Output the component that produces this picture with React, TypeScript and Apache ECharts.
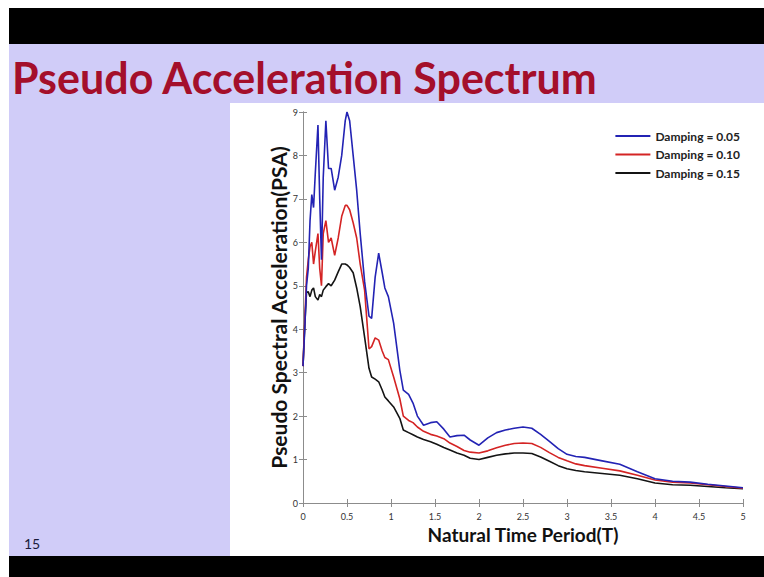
import React, { useEffect, useRef } from "react";
import * as echarts from "echarts";

const periods = [0, 0.02, 0.04, 0.06, 0.08, 0.1, 0.12, 0.14, 0.17, 0.19, 0.21, 0.23, 0.26, 0.29, 0.32, 0.36, 0.4, 0.44, 0.48, 0.5, 0.53, 0.57, 0.61, 0.65, 0.7, 0.75, 0.78, 0.82, 0.86, 0.9, 0.93, 0.97, 1.03, 1.1, 1.14, 1.2, 1.25, 1.3, 1.37, 1.45, 1.52, 1.6, 1.67, 1.75, 1.83, 1.9, 2.0, 2.1, 2.2, 2.3, 2.4, 2.5, 2.6, 2.7, 2.8, 2.9, 3.0, 3.1, 3.2, 3.4, 3.6, 3.8, 4.0, 4.2, 4.4, 4.6, 4.8, 5.0];

const psa005 = [3.15, 4.0, 5.0, 5.4, 6.5, 7.1, 6.8, 7.6, 8.7, 7.0, 5.6, 7.5, 8.8, 7.7, 7.7, 7.2, 7.5, 8.0, 8.8, 9.0, 8.8, 8.0, 7.2, 6.2, 5.1, 4.3, 4.25, 5.2, 5.75, 5.3, 4.95, 4.75, 4.14, 3.06, 2.6, 2.5, 2.3, 2.0, 1.79, 1.85, 1.87, 1.7, 1.52, 1.55, 1.56, 1.45, 1.33, 1.5, 1.62, 1.68, 1.72, 1.75, 1.72, 1.58, 1.42, 1.25, 1.12, 1.07, 1.05, 0.97, 0.89, 0.72, 0.56, 0.5, 0.48, 0.43, 0.39, 0.35];

const psa010 = [3.15, 4.2, 5.2, 5.6, 5.9, 6.0, 5.5, 5.8, 6.2, 5.4, 5.0, 6.2, 6.5, 6.0, 6.1, 5.7, 6.1, 6.6, 6.85, 6.85, 6.75, 6.45, 6.1, 5.5, 4.9, 3.55, 3.6, 3.8, 3.75, 3.5, 3.35, 3.3, 2.9, 2.4, 2.0, 1.9, 1.85, 1.75, 1.65, 1.58, 1.54, 1.48, 1.38, 1.3, 1.21, 1.17, 1.15, 1.2, 1.27, 1.33, 1.37, 1.38, 1.37, 1.28, 1.16, 1.05, 0.97, 0.9, 0.86, 0.8, 0.74, 0.64, 0.53, 0.48, 0.46, 0.42, 0.38, 0.34];

const psa015 = [3.15, 4.1, 4.85, 4.86, 4.75, 4.9, 4.95, 4.75, 4.67, 4.8, 4.75, 4.9, 4.98, 5.05, 5.0, 5.13, 5.32, 5.5, 5.5, 5.48, 5.42, 5.3, 4.95, 4.52, 3.82, 3.1, 2.9, 2.85, 2.79, 2.6, 2.44, 2.35, 2.21, 1.95, 1.68, 1.62, 1.57, 1.52, 1.46, 1.41, 1.35, 1.28, 1.22, 1.15, 1.1, 1.03, 1.0, 1.05, 1.1, 1.13, 1.15, 1.15, 1.14, 1.06, 0.96, 0.86, 0.79, 0.75, 0.72, 0.68, 0.64, 0.56, 0.46, 0.42, 0.41, 0.38, 0.35, 0.33];

const seriesNames = ["Damping = 0.05", "Damping = 0.10", "Damping = 0.15"];
const seriesColors = ["#2323b4", "#d42424", "#141414"];
const title = "Pseudo Acceleration Spectrum";
const xName = "Natural Time Period(T)";
const yName = "Pseudo Spectral Acceleration(PSA)";
const pageNumber = "15";

const FONT = "Lato, 'Open Sans', sans-serif";

export default function App() {
  const ref = useRef<HTMLDivElement>(null);
  useEffect(() => {
    if (!ref.current) return;
    const chart = echarts.init(ref.current, undefined, { renderer: "svg" });
    const values = [psa005, psa010, psa015];
    const gridLeft = 303;
    const gridTop = 112;
    const gridW = 440;
    const gridH = 391;
    const axisColor = "#8c8c8c";
    const xCommon = {
      type: "value" as const,
      min: 0,
      max: 5,
      interval: 0.5,
      splitLine: { show: false },
      axisLine: { show: true, lineStyle: { color: axisColor, width: 1 } },
      axisTick: { show: true, inside: true, length: 4, lineStyle: { color: axisColor } },
    };
    const yCommon = {
      type: "value" as const,
      min: 0,
      max: 9,
      interval: 1,
      splitLine: { show: false },
      axisLine: { show: true, lineStyle: { color: axisColor, width: 1 } },
      axisTick: { show: true, inside: true, length: 4, lineStyle: { color: axisColor } },
    };
    chart.setOption({
      animation: false,
      backgroundColor: "#ffffff",
      graphic: [
        { type: "rect", z: -100, shape: { x: 9, y: 8, width: 755, height: 36 }, style: { fill: "#000000" } },
        { type: "rect", z: -100, shape: { x: 9, y: 44, width: 755, height: 512 }, style: { fill: "#d0ccf8" } },
        { type: "rect", z: -100, shape: { x: 9, y: 556, width: 755, height: 21 }, style: { fill: "#000000" } },
        { type: "rect", z: -99, shape: { x: 230, y: 103, width: 534, height: 453 }, style: { fill: "#ffffff" } },
        {
          type: "text",
          z: 10,
          x: 12,
          y: 77,
          style: {
            text: title,
            font: `bold 43px ${FONT}`,
            fill: "#a40f2b",
            verticalAlign: "middle",
            align: "left",
          },
        },
        {
          type: "text",
          z: 10,
          x: 24,
          y: 543,
          style: {
            text: pageNumber,
            font: `14px ${FONT}`,
            fill: "#1a1a3a",
            verticalAlign: "middle",
            align: "left",
          },
        },
      ],
      grid: { left: gridLeft, top: gridTop, width: gridW, height: gridH, containLabel: false },
      legend: {
        data: seriesNames,
        orient: "vertical",
        right: 19,
        top: 125,
        itemWidth: 35,
        itemHeight: 2,
        itemGap: 6.5,
        icon: "rect",
        textStyle: { fontFamily: FONT, fontSize: 12, fontWeight: "bold", color: "#222222" },
      },
      xAxis: [
        {
          ...xCommon,
          position: "bottom",
          name: xName,
          nameLocation: "middle",
          nameGap: 22,
          nameMoveOverlap: false,
          nameTextStyle: { fontFamily: FONT, fontSize: 19, fontWeight: "bold", color: "#111111" },
          axisLabel: { fontFamily: FONT, fontSize: 9, color: "#333333", margin: 9 },
        },
        { ...xCommon, position: "top", axisLabel: { show: false } },
      ],
      yAxis: [
        {
          ...yCommon,
          position: "left",
          name: yName,
          nameLocation: "middle",
          nameGap: 14,
          nameMoveOverlap: false,
          nameTextStyle: { fontFamily: FONT, fontSize: 21, fontWeight: "bold", color: "#111111" },
          axisLabel: { fontFamily: FONT, fontSize: 9, color: "#333333", margin: 5 },
        },
        { ...yCommon, position: "right", axisLabel: { show: false } },
      ],
      series: values.map((vals, i) => ({
        type: "line",
        name: seriesNames[i],
        data: periods.map((t, j) => [t, vals[j]]),
        showSymbol: false,
        symbol: "none",
        smooth: false,
        color: seriesColors[i],
        lineStyle: { width: 1.6, color: seriesColors[i] },
        z: 5 - i,
      })),
    });
    return () => chart.dispose();
  }, []);
  return (
    <div
      ref={ref}
      style={{ position: "absolute", left: 0, top: 0, width: 764, height: 577 }}
    />
  );
}
